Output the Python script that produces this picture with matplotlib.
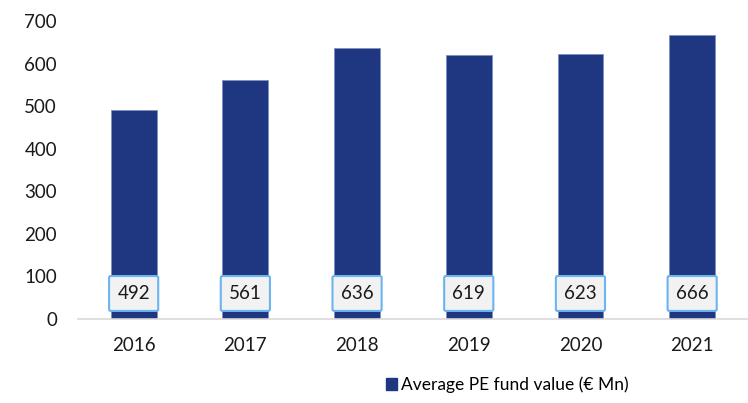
import matplotlib.pyplot as plt
from matplotlib.patches import Patch, FancyBboxPatch

years = ['2016', '2017', '2018', '2019', '2020', '2021']
values = [492, 561, 636, 619, 623, 666]
series_name = 'Average PE fund value (€ Mn)'

BAR = '#1f3680'
plt.rcParams['font.family'] = ['Lato', 'DejaVu Sans']

fig = plt.figure(figsize=(7.48, 4.03), dpi=100)
ax = fig.add_axes([0.104, 0.2084, 0.896, 0.7396])
x = range(len(years))
ax.bar(x, values, width=0.41, color=BAR, edgecolor='#7f8fbf', linewidth=0.6, zorder=2)

# label boxes in data units: ~49px wide, ~35px tall
bw, y0, y1 = 0.44, 19, 101
asp = (700 / 298) / (6 / 670)
for i, v in zip(x, values):
    ax.add_patch(FancyBboxPatch((i - bw / 2, y0), bw, y1 - y0,
                                boxstyle='round,pad=0,rounding_size=0.015', mutation_aspect=asp,
                                fc='#f2f2f2', ec='#6cb4f0', lw=1.5, zorder=3))
    ax.text(i, (y0 + y1) / 2, str(v), ha='center', va='center', fontsize=13.5,
            color='#1a1a1a', zorder=4)

ax.set_xlim(-0.5, 5.5)
ax.set_ylim(0, 700)
ax.set_yticks(range(0, 701, 100))
ax.set_xticks(list(x))
ax.set_xticklabels(years)
ax.tick_params(axis='both', length=0, labelsize=13.5, colors='#1a1a1a')
ax.tick_params(axis='x', pad=13)
ax.tick_params(axis='y', pad=15)
for s in ['top', 'right', 'left']:
    ax.spines[s].set_visible(False)
ax.spines['bottom'].set_color('#d9d9d9')
ax.spines['bottom'].set_linewidth(1.2)
fig.legend(handles=[Patch(color=BAR, label=series_name)], loc='center', bbox_to_anchor=(0.678, 0.045),
           frameon=False, fontsize=12.5, handlelength=0.65, handleheight=0.65, handletextpad=0.25)
fig.savefig('out.png', dpi=100, facecolor='white')
